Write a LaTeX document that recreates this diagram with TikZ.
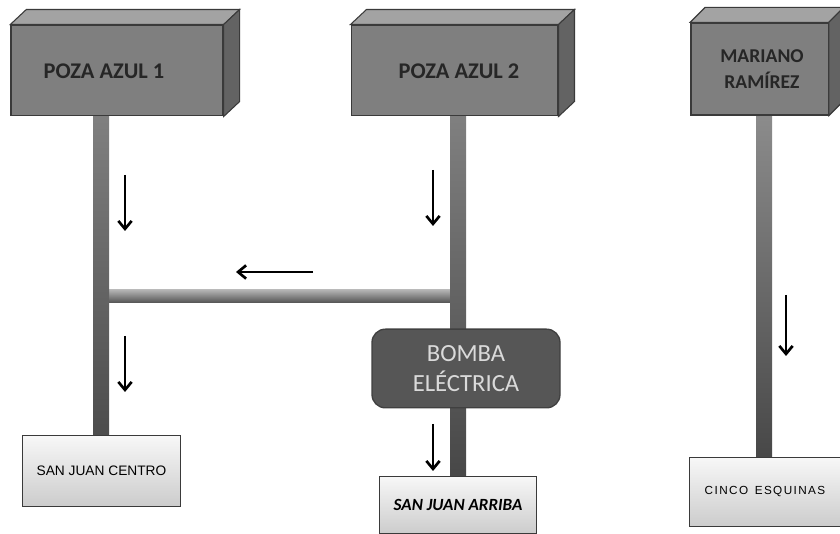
\documentclass[tikz,border=0pt]{standalone}
\usepackage{fontspec}
\setmainfont{Carlito}
\newfontfamily\arialfont{Liberation Sans}
\newfontfamily\spacedfont[LetterSpace=12]{Liberation Sans}
\usetikzlibrary{positioning}
\usetikzlibrary{calc}
\usetikzlibrary{arrows.meta}
\definecolor{tankfront}{HTML}{7F7F7F}
\definecolor{tanktop}{HTML}{A3A3A3}
\definecolor{tankside}{HTML}{636363}
\definecolor{tankline}{HTML}{3A3A3A}
\definecolor{pumpfill}{HTML}{565656}
\definecolor{pumptext}{HTML}{DADADA}
\tikzset {
  % elevated tanks
  tank/.style={draw=tankline, fill=tankfront, line width=1pt, inner sep=0pt},
  tanklabel/.style={font=\bfseries\fontsize{16.8}{20}\selectfont, text=black!85, align=center},
  % pipes between the nodes
  pipe/.style={line width=12pt, tankfront},
  % the places that get the water
  town/.style={draw=tankline, line width=0.7pt, top color=black!3, bottom color=black!20, inner sep=0pt},
  pump/.style={draw=black!75, fill=pumpfill, line width=1pt, rounded corners=10pt, inner sep=0pt, text=pumptext, align=center, font=\fontsize{18.5}{22.5}\selectfont},
  % direction of the flow
  flow/.style={-{Straight Barb[length=6pt, width=10pt, line width=2pt]}, line width=1.4pt, black},
}
\begin{document}
\begin{tikzpicture}[x=0.75pt, y=-0.75pt]
  \useasboundingbox (0,0) rectangle (840,534);
  \clip (0,0) rectangle (840,534);

  % pipe ends
  \coordinate (top1) at (101,116);
  \coordinate (join1) at (101,296);
  \coordinate (end1) at (101,436);
  \coordinate (top2) at (458,116);
  \coordinate (join2) at (458,296);
  \coordinate (end2) at (458,476);
  \coordinate (top3) at (764,112);
  \coordinate (end3) at (764,458);

  % pipes
  \draw[pipe, line width=9.5pt] (join1) -- (join2);
  \shade[top color=black!30, bottom color=black!68] ($(join1)+(8,-6)$) rectangle ($(join2)+(-8,7)$);
  \draw[pipe] (top1) -- (end1);
  \shade[top color=black!50, bottom color=black!70] ($(top1)+(-8,0)$) rectangle ($(end1)+(8,0)$);
  \draw[pipe] (top2) -- (end2);
  \shade[top color=black!50, bottom color=black!72] ($(top2)+(-8,0)$) rectangle ($(end2)+(8,0)$);
  \draw[pipe] (top3) -- (end3);
  \shade[top color=black!45, bottom color=black!72] ($(top3)+(-8,0)$) rectangle ($(end3)+(8,0)$);

  % tanks
  \node[tank, minimum width=159pt, minimum height=68pt] (poza1) at (117,70.5) {};
  \node[tank, minimum width=155pt, minimum height=68pt] (poza2) at (454.5,70.5) {};
  \node[tank, minimum width=103pt, minimum height=69pt] (mariano) at (759.5,69) {};
  \foreach \t/\dx in {poza1/16, poza2/16, mariano/15} {
    \filldraw[draw=tankline, fill=tanktop, line width=0.8pt] (\t.north west) -- ++(\dx,-15)
      -| ($(\t.north east)+(\dx,-15)$) -- (\t.north east) -- cycle;
    \filldraw[draw=tankline, fill=tankside, line width=0.8pt] (\t.north east) -- ++(\dx,-15)
      -- ($(\t.south east)+(\dx,-15)$) -- (\t.south east) -- cycle;
  }
  \node[tanklabel] (label1) at (104,71) {POZA AZUL 1};
  \node[tanklabel] (label2) at (459,71) {POZA AZUL 2};
  \node[tanklabel, font=\bfseries\fontsize{14.7}{19}\selectfont] (label3) at (762,69) {MARIANO\\RAMÍREZ};

  \node[pump, minimum width=141pt, minimum height=59pt] (bomba) at (466,368.5) {BOMBA\\ELÉCTRICA};

  \node[town, minimum width=119pt, minimum height=53pt] (centro) at (101.5,471) {\arialfont\fontsize{10.3}{12}\selectfont SAN JUAN CENTRO};
  \node[town, minimum width=118pt, minimum height=43pt] (arriba) at (458,505) {\bfseries\itshape\fontsize{12.8}{15}\selectfont SAN JUAN ARRIBA};
  \node[town, minimum width=113pt, minimum height=52pt] (cinco) at (765,492) {\spacedfont\fontsize{8.8}{10}\selectfont CINCO\, ESQUINAS};

  % flow arrows
  \coordinate (a1) at (125,175);
  \coordinate (b1) at (125,231);
  \coordinate (a2) at (433,170);
  \coordinate (b2) at (433,226);
  \coordinate (a3) at (313,272);
  \coordinate (b3) at (236,272);
  \coordinate (a4) at (125,336);
  \coordinate (b4) at (125,392);
  \coordinate (a5) at (433,424);
  \coordinate (b5) at (433,471);
  \coordinate (a6) at (786,295);
  \coordinate (b6) at (786,356);
  \foreach \i in {1,...,6} {
    \draw[flow] (a\i) -- (b\i);
  }
\end{tikzpicture}
\end{document}
